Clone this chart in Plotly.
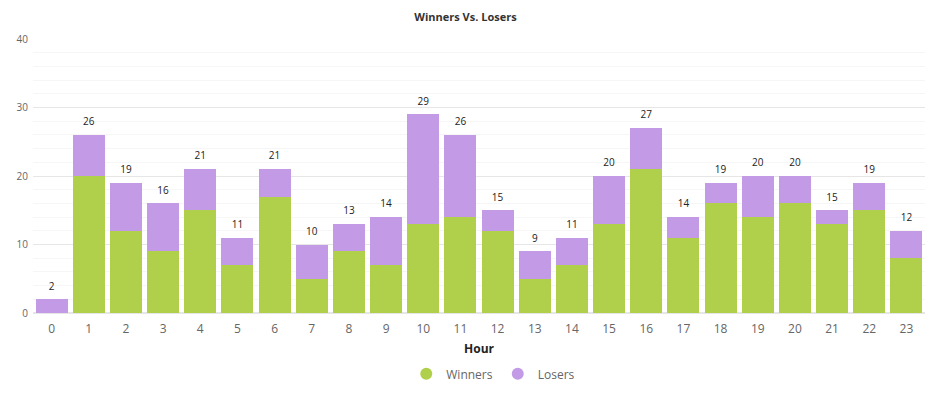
import plotly.graph_objects as go

hours = [str(h) for h in range(24)]
winners = [0, 20, 12, 9, 15, 7, 17, 5, 9, 7, 13, 14, 12, 5, 7, 13, 21, 11, 16, 14, 16, 13, 15, 8]
losers = [2, 6, 7, 7, 6, 4, 4, 5, 4, 7, 16, 12, 3, 4, 4, 7, 6, 3, 3, 6, 4, 2, 4, 4]
totals = [w + l for w, l in zip(winners, losers)]

GREEN = "#b0cf4b"
PURPLE = "#c39ae6"

fig = go.Figure()
fig.add_trace(go.Bar(x=hours, y=winners, name="Winners", marker_color=GREEN,
                     marker_line_width=0, showlegend=False, hoverinfo="x+y+name"))
fig.add_trace(go.Bar(x=hours, y=losers, name="Losers", marker_color=PURPLE,
                     marker_line_width=0, showlegend=False, hoverinfo="x+y+name"))
fig.add_trace(go.Scatter(x=hours, y=totals, mode="markers+text", text=[str(t) for t in totals],
                         textposition="top center",
                         marker=dict(size=10, opacity=0),
                         textfont=dict(size=10, color="#222222"),
                         showlegend=False, hoverinfo="skip", cliponaxis=False))
# legend entries with circle markers
fig.add_trace(go.Scatter(x=[None], y=[None], mode="markers", name="Winners",
                         marker=dict(symbol="circle", size=12, color=GREEN)))
fig.add_trace(go.Scatter(x=[None], y=[None], mode="markers", name="Losers",
                         marker=dict(symbol="circle", size=12, color=PURPLE)))

fig.update_layout(
    width=931, height=399,
    barmode="stack", bargap=0.135,
    plot_bgcolor="white", paper_bgcolor="white",
    font=dict(family="Open Sans, Noto Sans, sans-serif", color="#555555"),
    margin=dict(l=33, r=6, t=39, b=86, autoexpand=False),
    title=dict(text="<b>Winners Vs. Losers</b>", x=0.5, xanchor="center",
               y=1 - 17 / 399, yanchor="middle",
               font=dict(size=11, color="#333333")),
    legend=dict(orientation="h", x=0.516, xanchor="center", y=-0.222, yanchor="middle",
                font=dict(size=12, color="#666666"), traceorder="normal"),
    showlegend=True,
)
fig.update_xaxes(
    type="category", range=[-0.5, 23.5], showgrid=False, zeroline=False, showline=False,
    tickfont=dict(size=12, color="#666666"), ticks="", automargin=False,
    ticklabelstandoff=7,
    title=dict(text="<b>Hour</b>", font=dict(size=12, color="#222222"), standoff=8),
)
fig.update_yaxes(
    range=[0, 40], dtick=10, showgrid=True, gridcolor="#e6e6e6", gridwidth=1,
    minor=dict(dtick=2, showgrid=True, gridcolor="#f6f6f6", gridwidth=1),
    zeroline=True, zerolinecolor="#e6e6e6", showline=False, automargin=False,
    tickfont=dict(size=10, color="#666666"), ticks="", ticklabelstandoff=4,
)

fig.write_html("out.html", config={"displayModeBar": False},
               post_script="document.body.style.margin='0';")
